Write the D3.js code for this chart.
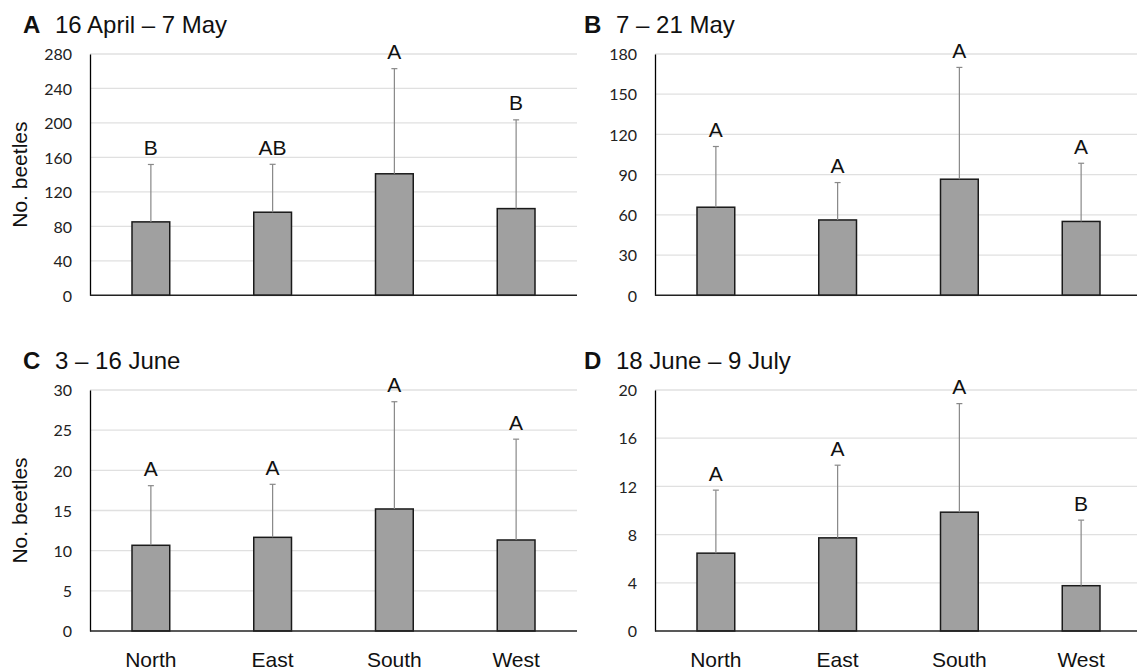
<!DOCTYPE html>
<html>
<head>
<meta charset="utf-8">
<script src="https://cdn.jsdelivr.net/npm/d3@7"></script>
<style>
  body { margin: 0; background: #fff; }
  svg { display: block; }
</style>
</head>
<body>
<div id="chart"></div>
<script>
// data
const categories = ["North", "East", "South", "West"];

const panelTags = ["A", "B", "C", "D"];
const panelDates = ["16 April \u2013 7 May", "7 \u2013 21 May", "3 \u2013 16 June", "18 June \u2013 9 July"];

const meansA = [85.2, 96.4, 141, 100.6];
const errA = [66.6, 55.6, 122, 103];
const lettersA = ["B", "AB", "A", "B"];
const ticksA = [0, 40, 80, 120, 160, 200, 240, 280];

const meansB = [65.7, 56.2, 86.6, 55.1];
const errB = [45.3, 27.9, 83.4, 43.4];
const lettersB = ["A", "A", "A", "A"];
const ticksB = [0, 30, 60, 90, 120, 150, 180];

const meansC = [10.67, 11.66, 15.19, 11.33];
const errC = [7.42, 6.6, 13.35, 12.55];
const lettersC = ["A", "A", "A", "A"];
const ticksC = [0, 5, 10, 15, 20, 25, 30];

const meansD = [6.46, 7.73, 9.86, 3.76];
const errD = [5.23, 6.03, 9.01, 5.44];
const lettersD = ["A", "A", "A", "B"];
const ticksD = [0, 4, 8, 12, 16, 20];

const W = 1137, H = 670;
const plotW = 487;

const svg = d3.select("#chart").append("svg")
  .attr("width", W)
  .attr("height", H);

function drawPanel(idx, means, errs, letters, ticks, left, top, bottom, opts) {
  const g = svg.append("g");

  const x = d3.scaleBand()
    .domain(categories)
    .range([left, left + plotW])
    .padding(0);
  const y = d3.scaleLinear()
    .domain([0, ticks[ticks.length - 1]])
    .range([bottom, top]);

  // gridlines
  g.selectAll("line.grid")
    .data(ticks.slice(1))
    .enter()
    .append("line")
    .attr("x1", left)
    .attr("x2", left + plotW)
    .attr("y1", d => y(d))
    .attr("y2", d => y(d))
    .attr("stroke", "#e0e0e0")
    .attr("stroke-width", 1.3);

  // y axis
  const yAxis = d3.axisLeft(y).tickValues(ticks).tickSize(0).tickPadding(18);
  const ya = g.append("g")
    .attr("transform", "translate(" + left + ",0)")
    .call(yAxis);
  ya.select(".domain").attr("stroke", "#000").attr("stroke-width", 1.3);
  ya.selectAll("text")
    .style("font-family", "Lato, 'Open Sans', sans-serif")
    .style("font-size", "16px")
    .attr("fill", "#222")
    .attr("dy", "0.36em");

  const bw = x.bandwidth() * 0.31;
  const cx = d => x(d) + x.bandwidth() / 2;

  // bars
  g.selectAll("rect.bar")
    .data(categories)
    .enter()
    .append("rect")
    .attr("x", d => cx(d) - bw / 2)
    .attr("y", (d, i) => y(means[i]))
    .attr("width", bw)
    .attr("height", (d, i) => bottom - y(means[i]))
    .attr("fill", "#a0a0a0")
    .attr("stroke", "#1a1a1a")
    .attr("stroke-width", 1.5);

  // error bars (upper only)
  g.selectAll("line.err")
    .data(categories)
    .enter()
    .append("line")
    .attr("x1", cx)
    .attr("x2", cx)
    .attr("y1", (d, i) => y(means[i]))
    .attr("y2", (d, i) => y(means[i] + errs[i]))
    .attr("stroke", "#888")
    .attr("stroke-width", 1.2);
  g.selectAll("line.cap")
    .data(categories)
    .enter()
    .append("line")
    .attr("x1", d => cx(d) - 3)
    .attr("x2", d => cx(d) + 3)
    .attr("y1", (d, i) => y(means[i] + errs[i]))
    .attr("y2", (d, i) => y(means[i] + errs[i]))
    .attr("stroke", "#888")
    .attr("stroke-width", 1.2);

  // significance letters
  g.selectAll("text.sig")
    .data(categories)
    .enter()
    .append("text")
    .attr("x", cx)
    .attr("y", (d, i) => y(means[i] + errs[i]) - 9.5)
    .attr("text-anchor", "middle")
    .style("font-family", "'Liberation Sans', Arial, sans-serif")
    .style("font-size", "21px")
    .attr("fill", "#111")
    .text((d, i) => letters[i]);

  // x axis line
  g.append("line")
    .attr("x1", left)
    .attr("x2", left + plotW)
    .attr("y1", bottom)
    .attr("y2", bottom)
    .attr("stroke", "#222")
    .attr("stroke-width", 1.5);

  if (opts.xLabels) {
    g.selectAll("text.cat")
      .data(categories)
      .enter()
      .append("text")
      .attr("x", cx)
      .attr("y", bottom + 36)
      .attr("text-anchor", "middle")
      .style("font-family", "'Liberation Sans', Arial, sans-serif")
      .style("font-size", "21px")
      .attr("fill", "#111")
      .text(d => d);
  }

  if (opts.yTitle) {
    g.append("text")
      .attr("transform", "translate(27," + ((top + bottom) / 2) + ")rotate(-90)")
      .attr("text-anchor", "middle")
      .style("font-family", "'Liberation Sans', Arial, sans-serif")
      .style("font-size", "21px")
      .attr("fill", "#111")
      .text("No. beetles");
  }

  // panel title
  g.append("text")
    .attr("x", opts.tagX)
    .attr("y", top - 21)
    .style("font-family", "'Liberation Sans', Arial, sans-serif")
    .style("font-size", "24px")
    .style("font-weight", "bold")
    .attr("fill", "#111")
    .text(panelTags[idx]);
  g.append("text")
    .attr("x", opts.tagX + 32)
    .attr("y", top - 21)
    .style("font-family", "'Liberation Sans', Arial, sans-serif")
    .style("font-size", "24px")
    .attr("fill", "#111")
    .text(panelDates[idx]);
}

drawPanel(0, meansA, errA, lettersA, ticksA, 90, 54, 295.3, { yTitle: true, xLabels: false, tagX: 23 });
drawPanel(1, meansB, errB, lettersB, ticksB, 655, 54, 295.3, { yTitle: false, xLabels: false, tagX: 584 });
drawPanel(2, meansC, errC, lettersC, ticksC, 90, 390, 631, { yTitle: true, xLabels: true, tagX: 23 });
drawPanel(3, meansD, errD, lettersD, ticksD, 655, 390, 631, { yTitle: false, xLabels: true, tagX: 584 });
</script>
</body>
</html>
